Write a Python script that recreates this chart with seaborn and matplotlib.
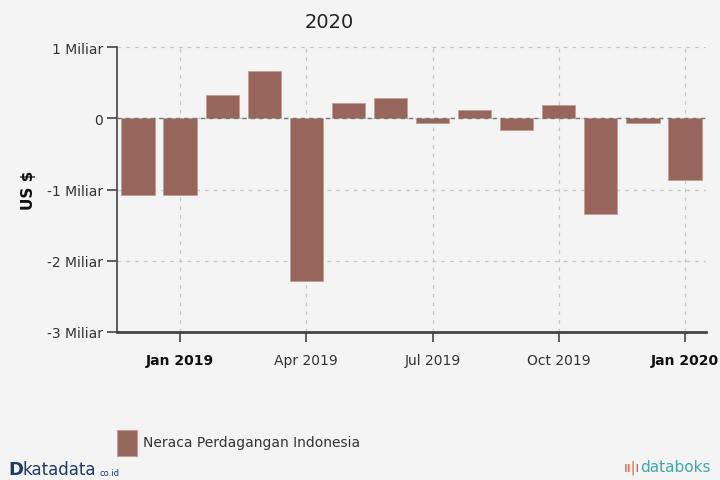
import seaborn as sns
import matplotlib.pyplot as plt
import pandas as pd

months = ["Dec 2018", "Jan 2019", "Feb 2019", "Mar 2019", "Apr 2019", "May 2019", "Jun 2019",
          "Jul 2019", "Aug 2019", "Sep 2019", "Oct 2019", "Nov 2019", "Dec 2019", "Jan 2020"]
# trade balance, billion US$
neraca = [-1.08, -1.08, 0.33, 0.67, -2.28, 0.22, 0.29, -0.07, 0.11, -0.17, 0.18, -1.35, -0.07, -0.87]

tick_pos = [1, 4, 7, 10, 13]
tick_labels = ["Jan 2019", "Apr 2019", "Jul 2019", "Oct 2019", "Jan 2020"]
y_ticks = [1, 0, -1, -2, -3]
y_labels = ["1 Miliar", "0", "-1 Miliar", "-2 Miliar", "-3 Miliar"]

df = pd.DataFrame({"bulan": months, "nilai": neraca})

sns.set_style("white")
plt.rcParams["font.family"] = ["DejaVu Sans"]
bg = "#f4f4f4"
bar_col = "#96655c"

fig = plt.figure(figsize=(7.2, 4.81), dpi=100, facecolor=bg)
ax = fig.add_axes([117 / 720, 1 - 333 / 481, 589 / 720, 285 / 481])
ax.set_facecolor(bg)

sns.barplot(data=df, x="bulan", y="nilai", color=bar_col, saturation=1, width=0.79,
            edgecolor="#c49c94", linewidth=0.6, ax=ax, zorder=2)

ax.set_xlim(-0.5, 13.5)
ax.set_ylim(-3, 1)
ax.set_xticks(tick_pos)
ax.set_xticklabels(tick_labels, fontsize=10, color="#333333")
for lbl in ax.get_xticklabels():
    if lbl.get_text().startswith("Jan"):
        lbl.set_fontweight("bold")
        lbl.set_color("#111111")
ax.set_yticks(y_ticks)
ax.set_yticklabels(y_labels, fontsize=10, color="#333333")
ax.set_xlabel("")
ax.set_ylabel("US $", fontsize=11, fontweight="bold", color="#111111", labelpad=8)

ax.grid(True, axis="both", linestyle=(0, (3, 4)), color="#c8c8c8", linewidth=0.9, zorder=0)
ax.axhline(0, color="#777777", linestyle=(0, (3, 3)), linewidth=1.0, zorder=3)

for s in ["top", "right"]:
    ax.spines[s].set_visible(False)
ax.spines["left"].set_color("#444444")
ax.spines["left"].set_linewidth(1.2)
ax.spines["bottom"].set_color("#444444")
ax.spines["bottom"].set_linewidth(2)
ax.tick_params(axis="both", direction="out", length=7, width=1.2, color="#444444",
               bottom=True, left=True)
ax.tick_params(axis="x", pad=8)
ax.tick_params(axis="y", pad=3)

fig.text(329 / 720, 1 - 22 / 481, "2020", fontsize=14, ha="center", va="center", color="#222222")

# legend
fig.patches.append(plt.Rectangle((117 / 720, 1 - 457 / 481), 20 / 720, 26 / 481,
                                 transform=fig.transFigure, facecolor=bar_col,
                                 edgecolor="#c49c94", linewidth=0.8))
fig.text(143 / 720, 1 - 443 / 481, "Neraca Perdagangan Indonesia", fontsize=10,
         ha="left", va="center", color="#333333")

# logos
fig.text(8 / 720, 1 - 470 / 481, "D", fontsize=13, fontweight="bold", color="#1d3a6e",
         ha="left", va="center")
fig.text(22 / 720, 1 - 470 / 481, "katadata", fontsize=12, color="#1d3a6e",
         ha="left", va="center")
fig.text(100 / 720, 1 - 474 / 481, "co.id", fontsize=6, color="#1d3a6e",
         ha="left", va="center")
fig.text(624 / 720, 1 - 468 / 481, "ıı|ı", fontsize=10, color="#e0573a", ha="left", va="center")
fig.text(640 / 720, 1 - 468 / 481, "databoks", fontsize=11, color="#3fa8a8",
         ha="left", va="center")

fig.savefig("out.png", dpi=100, facecolor=bg)
